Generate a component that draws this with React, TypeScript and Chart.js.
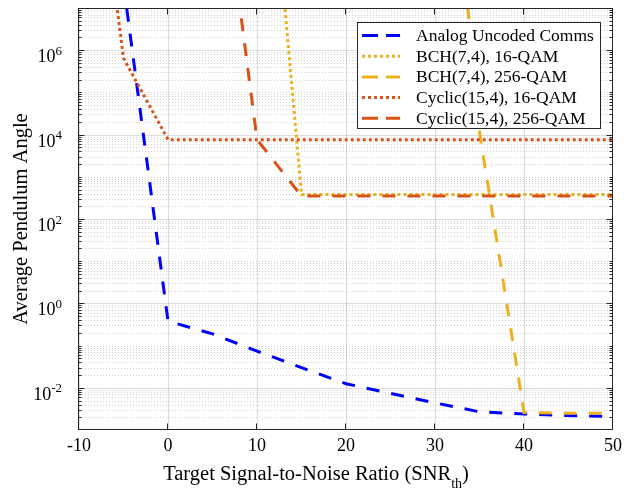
import React, { useEffect, useRef } from "react";
import { Chart, registerables } from "chart.js";

Chart.register(...registerables);

// ---------- data ----------
const snrDb = [-10, -5, 0, 5, 10, 15, 20, 25, 30, 35, 40, 45, 50];
const analogUncodedComms = [null, 3.7e7, 0.38, 0.19, 0.074, 0.03, 0.0125, 0.0074, 0.0044, 0.0027, 0.0024, 0.0022, 0.0021];
const bch74Qam16 = [null, null, null, null, 3e14, 380, 380, 380, 380, 380, 380, 380, 380];
const bch74Qam256 = [null, null, null, null, null, null, null, null, 2e15, 1.15e4, 0.0026, 0.0025, 0.0025];
const cyclic154Qam16 = [1e14, 6.5e5, 7600, 7600, 7600, 7600, 7600, 7600, 7600, 7600, 7600, 7600, 7600];
const cyclic154Qam256 = [null, null, null, 1.1e12, 7600, 350, 350, 350, 350, 350, 350, 350, 350];

const seriesLabels = [
  "Analog Uncoded Comms",
  "BCH(7,4), 16-QAM",
  "BCH(7,4), 256-QAM",
  "Cyclic(15,4), 16-QAM",
  "Cyclic(15,4), 256-QAM",
];

const xTickValues = [-10, 0, 10, 20, 30, 40, 50];
const xTickLabels = ["-10", "0", "10", "20", "30", "40", "50"];
const yTickValues = [1e-2, 1, 1e2, 1e4, 1e6];
const yTickExponents = ["-2", "0", "2", "4", "6"];
const xTitleMain = "Target Signal-to-Noise Ratio (SNR";
const xTitleSub = "th";
const xTitleTail = ")";
const yTitle = "Average Pendulum Angle";

// ---------- styles ----------
const FONT = '"Liberation Serif", "Times New Roman", Times, serif';
const BLUE = "#0000ff";
const YELLOW = "#EDB120";
const RED = "#D95319";
const AXIS = "#262626";
const DASH = [13, 12];
const DOT = [3, 3];

const toPoints = (ys: (number | null)[]) => snrDb.map((x, i) => ({ x, y: ys[i] }));

const matlabPlugin = {
  id: "matlabLook",
  beforeDatasetsDraw(chart: any) {
    const { ctx, chartArea: a, scales } = chart;
    const xs = scales.x;
    const ys = scales.y;
    ctx.save();
    ctx.beginPath();
    ctx.rect(a.left, a.top, a.right - a.left, a.bottom - a.top);
    ctx.clip();
    // minor y grid (dotted)
    ctx.lineWidth = 1;
    ctx.strokeStyle = "rgba(0,0,0,0.17)";
    ctx.setLineDash([1, 2]);
    for (let n = -3; n <= 6; n++) {
      for (let k = 1; k <= 9; k++) {
        const v = k * Math.pow(10, n);
        if (yTickValues.some((t) => Math.abs(t - v) / t < 1e-9)) continue;
        const y = Math.round(ys.getPixelForValue(v)) + 0.5;
        if (y <= a.top + 1 || y >= a.bottom - 1) continue;
        ctx.beginPath();
        ctx.moveTo(a.left, y);
        ctx.lineTo(a.right, y);
        ctx.stroke();
      }
    }
    // major grid (solid)
    ctx.setLineDash([]);
    ctx.strokeStyle = "rgba(0,0,0,0.13)";
    for (const v of yTickValues) {
      const y = Math.round(ys.getPixelForValue(v)) + 0.5;
      ctx.beginPath();
      ctx.moveTo(a.left, y);
      ctx.lineTo(a.right, y);
      ctx.stroke();
    }
    for (const v of xTickValues) {
      const x = Math.round(xs.getPixelForValue(v)) + 0.5;
      ctx.beginPath();
      ctx.moveTo(x, a.top);
      ctx.lineTo(x, a.bottom);
      ctx.stroke();
    }
    ctx.restore();
  },
  afterDatasetsDraw(chart: any) {
    const { ctx, chartArea: a, scales } = chart;
    const xs = scales.x;
    const ys = scales.y;
    ctx.save();
    ctx.setLineDash([]);
    ctx.strokeStyle = AXIS;
    ctx.lineWidth = 1;
    const L = a.left - 0.5, R = a.right - 0.5, T = a.top + 0.5, B = a.bottom - 0.5;
    // ticks
    ctx.beginPath();
    for (const v of xTickValues) {
      const x = Math.round(xs.getPixelForValue(v)) - 0.5;
      ctx.moveTo(x, B); ctx.lineTo(x, B - 6);
      ctx.moveTo(x, T); ctx.lineTo(x, T + 6);
    }
    for (let n = -3; n <= 6; n++) {
      for (let k = 1; k <= 9; k++) {
        const v = k * Math.pow(10, n);
        const y = Math.round(ys.getPixelForValue(v)) + 0.5;
        if (y < a.top || y > a.bottom) continue;
        const major = yTickValues.some((t) => Math.abs(t - v) / t < 1e-9);
        const len = major ? 6 : 3;
        ctx.moveTo(L, y); ctx.lineTo(L + len, y);
        ctx.moveTo(R, y); ctx.lineTo(R - len, y);
      }
    }
    ctx.stroke();
    // box
    ctx.strokeRect(L, T, R - L, B - T);

    // tick labels
    ctx.fillStyle = "#000";
    ctx.font = `18px ${FONT}`;
    ctx.textAlign = "center";
    ctx.textBaseline = "middle";
    xTickValues.forEach((v, i) => {
      ctx.fillText(xTickLabels[i], xs.getPixelForValue(v), a.bottom + 16);
    });
    yTickValues.forEach((v, i) => {
      const y = ys.getPixelForValue(v);
      ctx.font = `13px ${FONT}`;
      const ew = ctx.measureText(yTickExponents[i]).width;
      const right = 62;
      ctx.textAlign = "left";
      ctx.textBaseline = "alphabetic";
      ctx.fillText(yTickExponents[i], right - ew, y + 4.5);
      ctx.font = `18px ${FONT}`;
      ctx.textAlign = "right";
      ctx.fillText("10", right - ew, y + 12);
    });

    // x title
    ctx.textAlign = "left";
    ctx.textBaseline = "alphabetic";
    ctx.font = `20.5px ${FONT}`;
    const wMain = ctx.measureText(xTitleMain).width;
    ctx.font = `14px ${FONT}`;
    const wSub = ctx.measureText(xTitleSub).width;
    ctx.font = `20.5px ${FONT}`;
    const wTail = ctx.measureText(xTitleTail).width;
    const total = wMain + wSub + wTail;
    const x0 = 316 - total / 2;
    ctx.fillText(xTitleMain, x0, 480);
    ctx.font = `14px ${FONT}`;
    ctx.fillText(xTitleSub, x0 + wMain, 488);
    ctx.font = `20.5px ${FONT}`;
    ctx.fillText(xTitleTail, x0 + wMain + wSub, 480);

    // y title
    ctx.save();
    ctx.translate(22, (a.top + a.bottom) / 2);
    ctx.rotate(-Math.PI / 2);
    ctx.textAlign = "center";
    ctx.textBaseline = "middle";
    ctx.font = `20.5px ${FONT}`;
    ctx.fillText(yTitle, 0, 0);
    ctx.restore();

    // legend
    const lx = 357.5, ly = 22.5, lw = 243, lh = 106;
    ctx.fillStyle = "#fff";
    ctx.fillRect(lx, ly, lw, lh);
    ctx.strokeStyle = AXIS;
    ctx.lineWidth = 1;
    ctx.strokeRect(lx, ly, lw, lh);
    chart.data.datasets.forEach((ds: any, i: number) => {
      const cy = 35.5 + i * 20.7;
      ctx.save();
      ctx.strokeStyle = ds.borderColor;
      ctx.lineWidth = ds.borderWidth;
      ctx.setLineDash(ds.legendDash);
      ctx.beginPath();
      ctx.moveTo(362, cy);
      ctx.lineTo(400, cy);
      ctx.stroke();
      ctx.restore();
      ctx.fillStyle = "#000";
      ctx.font = `17.5px ${FONT}`;
      ctx.textAlign = "left";
      ctx.textBaseline = "middle";
      ctx.fillText(ds.label, 416, cy + 1);
    });
    ctx.restore();
  },
};

export default function App() {
  const ref = useRef<HTMLCanvasElement | null>(null);
  useEffect(() => {
    if (!ref.current) return;
    const mk = (i: number, data: (number | null)[], color: string, dash: number[], legendDash: number[]) => ({
      label: seriesLabels[i],
      data: toPoints(data),
      borderColor: color,
      backgroundColor: color,
      borderWidth: 3,
      borderDash: dash,
      borderCapStyle: "butt",
      legendDash,
      pointRadius: 0,
      tension: 0,
      fill: false,
      spanGaps: false,
      order: 10 - i,
    });
    const chart = new Chart(ref.current, {
      type: "line",
      data: {
        datasets: [
          mk(0, analogUncodedComms, BLUE, DASH, [16, 8]),
          mk(1, bch74Qam16, YELLOW, DOT, DOT),
          mk(2, bch74Qam256, YELLOW, DASH, [16, 8]),
          mk(3, cyclic154Qam16, RED, DOT, DOT),
          mk(4, cyclic154Qam256, RED, DASH, [16, 8]),
        ] as any,
      },
      options: {
        animation: false,
        responsive: false,
        devicePixelRatio: 1,
        layout: { padding: { left: 79, right: 19, top: 8, bottom: 61 } },
        plugins: { legend: { display: false }, tooltip: { enabled: false } },
        events: [],
        scales: {
          x: { type: "linear", min: -10, max: 50, display: false },
          y: { type: "logarithmic", min: 1e-3, max: 1e7, display: false },
        },
      },
      plugins: [matlabPlugin],
    } as any);
    return () => chart.destroy();
  }, []);
  return (
    <div style={{ position: "absolute", left: 0, top: 0, width: 632, height: 491, background: "#fff" }}>
      <canvas ref={ref} width={632} height={491} style={{ display: "block" }} />
    </div>
  );
}
